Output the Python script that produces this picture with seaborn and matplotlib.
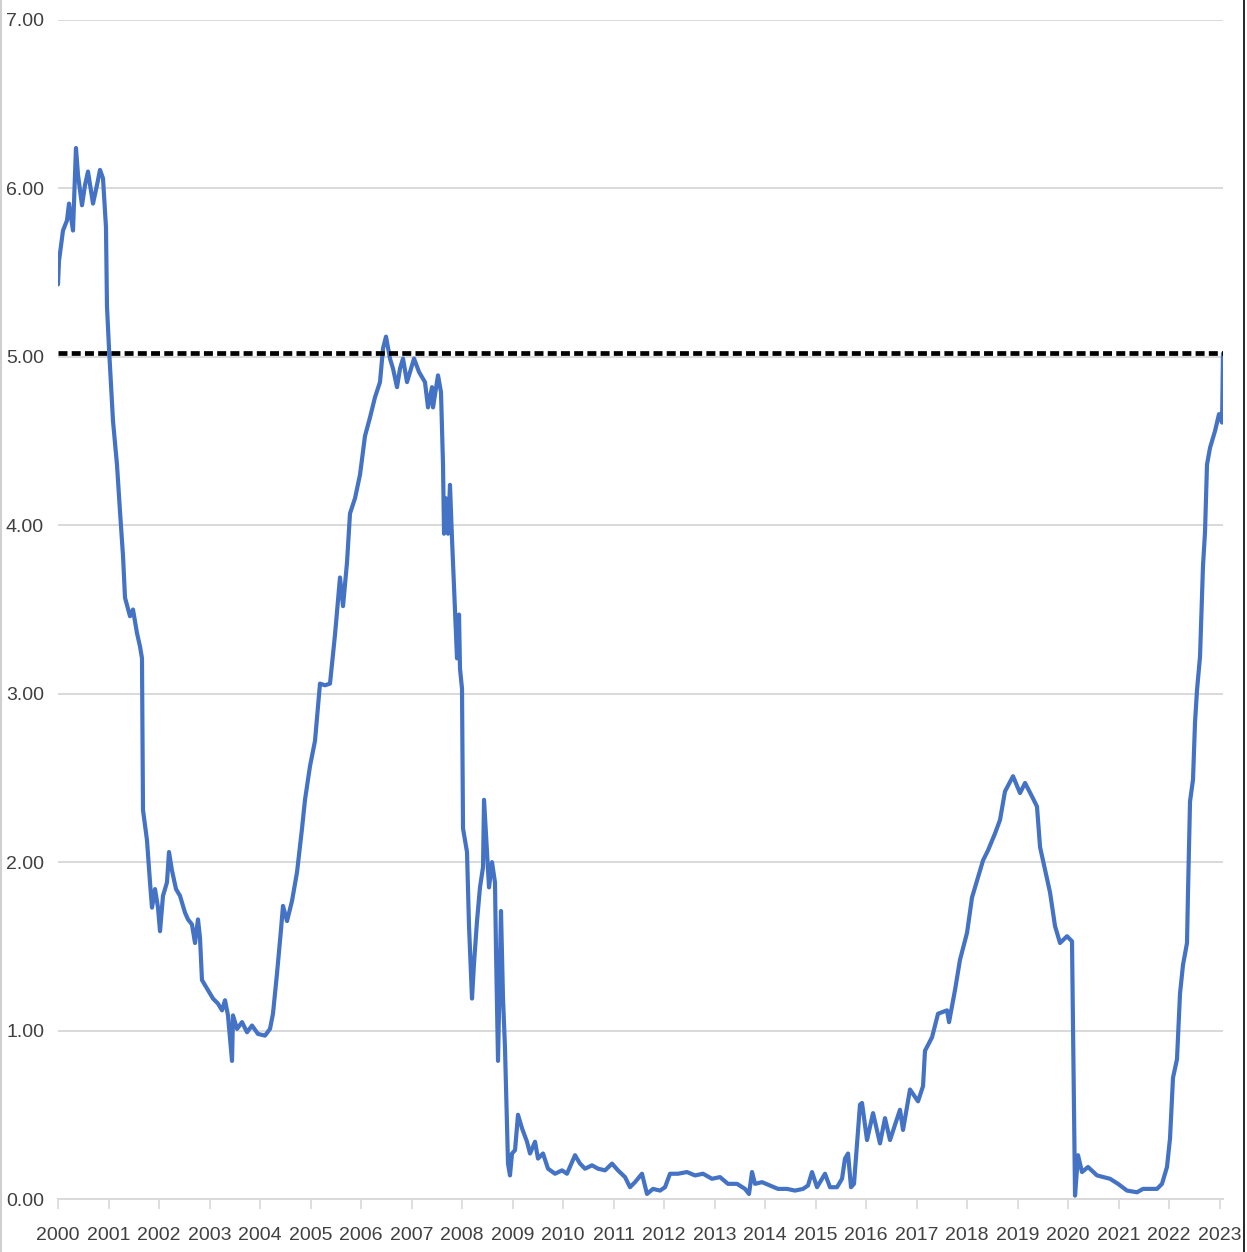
import numpy as np
import pandas as pd
import matplotlib
matplotlib.use('Agg')
import matplotlib.pyplot as plt
from matplotlib.lines import Line2D
import seaborn as sns

# yield readings (decimal years, percent)
years = [
    2000.000, 2000.020, 2000.099, 2000.178, 2000.218, 2000.297, 2000.356, 2000.396, 2000.475, 2000.535,
    2000.594, 2000.693, 2000.772, 2000.832, 2000.891, 2000.950, 2000.970, 2001.010, 2001.050, 2001.089,
    2001.168, 2001.228, 2001.287, 2001.327, 2001.426, 2001.485, 2001.564, 2001.624, 2001.663, 2001.683,
    2001.762, 2001.822, 2001.861, 2001.921, 2001.980, 2002.020, 2002.079, 2002.158, 2002.198, 2002.257,
    2002.337, 2002.416, 2002.515, 2002.574, 2002.653, 2002.713, 2002.772, 2002.812, 2002.851, 2002.950,
    2003.069, 2003.168, 2003.248, 2003.307, 2003.366, 2003.446, 2003.465, 2003.545, 2003.644, 2003.743,
    2003.842, 2003.960, 2004.099, 2004.198, 2004.257, 2004.337, 2004.416, 2004.455, 2004.535, 2004.634,
    2004.733, 2004.832, 2004.891, 2004.990, 2005.089, 2005.188, 2005.287, 2005.386, 2005.485, 2005.584,
    2005.644, 2005.723, 2005.782, 2005.881, 2005.980, 2006.079, 2006.178, 2006.277, 2006.376, 2006.436,
    2006.495, 2006.574, 2006.634, 2006.713, 2006.772, 2006.832, 2006.911, 2006.970, 2007.050, 2007.149,
    2007.267, 2007.327, 2007.406, 2007.426, 2007.525, 2007.584, 2007.624, 2007.644, 2007.683, 2007.723,
    2007.762, 2007.802, 2007.861, 2007.901, 2007.941, 2007.960, 2008.000, 2008.020, 2008.099, 2008.139,
    2008.198, 2008.238, 2008.297, 2008.356, 2008.416, 2008.436, 2008.495, 2008.535, 2008.594, 2008.653,
    2008.673, 2008.713, 2008.772, 2008.812, 2008.851, 2008.891, 2008.911, 2008.950, 2008.990, 2009.050,
    2009.109, 2009.188, 2009.287, 2009.347, 2009.446, 2009.505, 2009.604, 2009.703, 2009.842, 2009.980,
    2010.079, 2010.238, 2010.337, 2010.436, 2010.574, 2010.693, 2010.832, 2010.970, 2011.089, 2011.228,
    2011.327, 2011.426, 2011.564, 2011.663, 2011.782, 2011.921, 2012.020, 2012.119, 2012.277, 2012.455,
    2012.614, 2012.772, 2012.950, 2013.109, 2013.267, 2013.446, 2013.604, 2013.683, 2013.743, 2013.802,
    2013.941, 2014.099, 2014.257, 2014.436, 2014.594, 2014.752, 2014.851, 2014.931, 2015.030, 2015.188,
    2015.287, 2015.426, 2015.525, 2015.584, 2015.644, 2015.703, 2015.762, 2015.822, 2015.881, 2015.921,
    2016.020, 2016.139, 2016.277, 2016.376, 2016.475, 2016.673, 2016.733, 2016.871, 2017.030, 2017.129,
    2017.168, 2017.307, 2017.426, 2017.604, 2017.644, 2017.762, 2017.861, 2018.000, 2018.099, 2018.198,
    2018.317, 2018.416, 2018.554, 2018.653, 2018.752, 2018.911, 2019.050, 2019.149, 2019.287, 2019.386,
    2019.446, 2019.505, 2019.644, 2019.743, 2019.842, 2019.980, 2020.079, 2020.099, 2020.139, 2020.198,
    2020.277, 2020.396, 2020.574, 2020.832, 2020.990, 2021.168, 2021.366, 2021.485, 2021.762, 2021.861,
    2021.960, 2022.020, 2022.079, 2022.158, 2022.218, 2022.277, 2022.356, 2022.376, 2022.416, 2022.475,
    2022.515, 2022.554, 2022.614, 2022.673, 2022.713, 2022.752, 2022.812, 2022.911, 2022.990, 2023.050,
    2023.069,
]

yields = [
    5.43, 5.57, 5.75, 5.81, 5.91, 5.75, 6.24, 6.08, 5.90, 6.02,
    6.10, 5.91, 6.02, 6.11, 6.06, 5.77, 5.30, 5.05, 4.83, 4.62,
    4.36, 4.08, 3.82, 3.57, 3.46, 3.50, 3.36, 3.28, 3.21, 2.31,
    2.13, 1.88, 1.73, 1.84, 1.73, 1.59, 1.80, 1.88, 2.06, 1.95,
    1.84, 1.80, 1.70, 1.66, 1.63, 1.52, 1.66, 1.55, 1.30, 1.25,
    1.19, 1.16, 1.12, 1.18, 1.09, 0.82, 1.09, 1.01, 1.05, 0.99,
    1.03, 0.98, 0.97, 1.01, 1.10, 1.34, 1.60, 1.74, 1.65, 1.77,
    1.94, 2.20, 2.37, 2.57, 2.72, 3.06, 3.05, 3.06, 3.35, 3.69,
    3.52, 3.78, 4.07, 4.16, 4.30, 4.53, 4.64, 4.76, 4.85, 5.05,
    5.12, 4.99, 4.93, 4.82, 4.93, 4.99, 4.85, 4.91, 4.99, 4.91,
    4.85, 4.70, 4.82, 4.70, 4.89, 4.79, 4.36, 3.95, 4.16, 3.95,
    4.24, 3.92, 3.49, 3.21, 3.47, 3.15, 3.03, 2.20, 2.06, 1.62,
    1.19, 1.40, 1.65, 1.85, 1.97, 2.37, 2.06, 1.85, 2.00, 1.88,
    1.48, 0.82, 1.71, 1.19, 0.90, 0.44, 0.21, 0.14, 0.27, 0.29,
    0.50, 0.42, 0.34, 0.27, 0.34, 0.24, 0.27, 0.18, 0.15, 0.17,
    0.15, 0.26, 0.21, 0.18, 0.20, 0.18, 0.17, 0.21, 0.17, 0.13,
    0.07, 0.10, 0.15, 0.03, 0.06, 0.05, 0.07, 0.15, 0.15, 0.16,
    0.14, 0.15, 0.12, 0.13, 0.09, 0.09, 0.06, 0.03, 0.16, 0.09,
    0.10, 0.08, 0.06, 0.06, 0.05, 0.06, 0.08, 0.16, 0.07, 0.15,
    0.07, 0.07, 0.12, 0.24, 0.27, 0.07, 0.09, 0.33, 0.56, 0.57,
    0.35, 0.51, 0.33, 0.48, 0.35, 0.53, 0.41, 0.65, 0.58, 0.67,
    0.88, 0.96, 1.10, 1.12, 1.05, 1.24, 1.42, 1.58, 1.79, 1.89,
    2.01, 2.07, 2.17, 2.25, 2.42, 2.51, 2.41, 2.47, 2.39, 2.33,
    2.09, 2.01, 1.82, 1.62, 1.52, 1.56, 1.53, 1.02, 0.02, 0.26,
    0.16, 0.19, 0.14, 0.12, 0.09, 0.05, 0.04, 0.06, 0.06, 0.09,
    0.19, 0.36, 0.72, 0.83, 1.22, 1.39, 1.52, 1.82, 2.36, 2.49,
    2.83, 3.02, 3.22, 3.76, 3.96, 4.36, 4.46, 4.56, 4.66, 4.61,
    5.02,
]

current_level = 5.02
year_ticks = list(range(2000, 2024))
y_ticks = [0, 1, 2, 3, 4, 5, 6, 7]

df = pd.DataFrame({'year': years, 'yield': yields})

sns.set_theme(style='white')
plt.rcParams['font.family'] = ['Liberation Sans', 'DejaVu Sans']

fig = plt.figure(figsize=(12.47, 12.52), dpi=100)
ax = fig.add_axes([58 / 1247, 1 - 1199 / 1252, (1223 - 58) / 1247, (1199 - 20) / 1252])

ax.yaxis.grid(True, color='#D9D9D9', linewidth=1.4)
ax.set_axisbelow(True)

sns.lineplot(data=df, x='year', y='yield', ax=ax, color='#4472C4',
             linewidth=3.0, estimator=None, sort=False, zorder=3)
ax.axhline(current_level, color='black', linewidth=3.4,
           linestyle=(0, (1.9, 0.9)), zorder=4)

ax.set_xlim(2000, years[-1])
ax.set_ylim(0, 7)
ax.set_xticks(year_ticks)
ax.set_xticklabels([str(y) for y in year_ticks])
ax.set_yticks(y_ticks)
ax.set_yticklabels([f'{v:.2f}' for v in y_ticks])
ax.set_xlabel('')
ax.set_ylabel('')

for side in ['top', 'right', 'left']:
    ax.spines[side].set_visible(False)
ax.spines['bottom'].set_color('#D9D9D9')
ax.spines['bottom'].set_linewidth(1.4)

ax.tick_params(axis='x', direction='out', length=7, width=1.2, color='#D9D9D9',
               labelsize=14, labelcolor='#404040', pad=13, bottom=True)
ax.tick_params(axis='y', length=0, labelsize=14, labelcolor='#404040', pad=10)

# frame edges visible in the reference image
fig.add_artist(Line2D([1 / 1247, 1 / 1247], [0, 1], color='#D0D0D0', linewidth=1.5))
fig.add_artist(Line2D([1244 / 1247, 1244 / 1247], [0, 1], color='black', linewidth=1.2))

fig.savefig('out.png', dpi=100)
